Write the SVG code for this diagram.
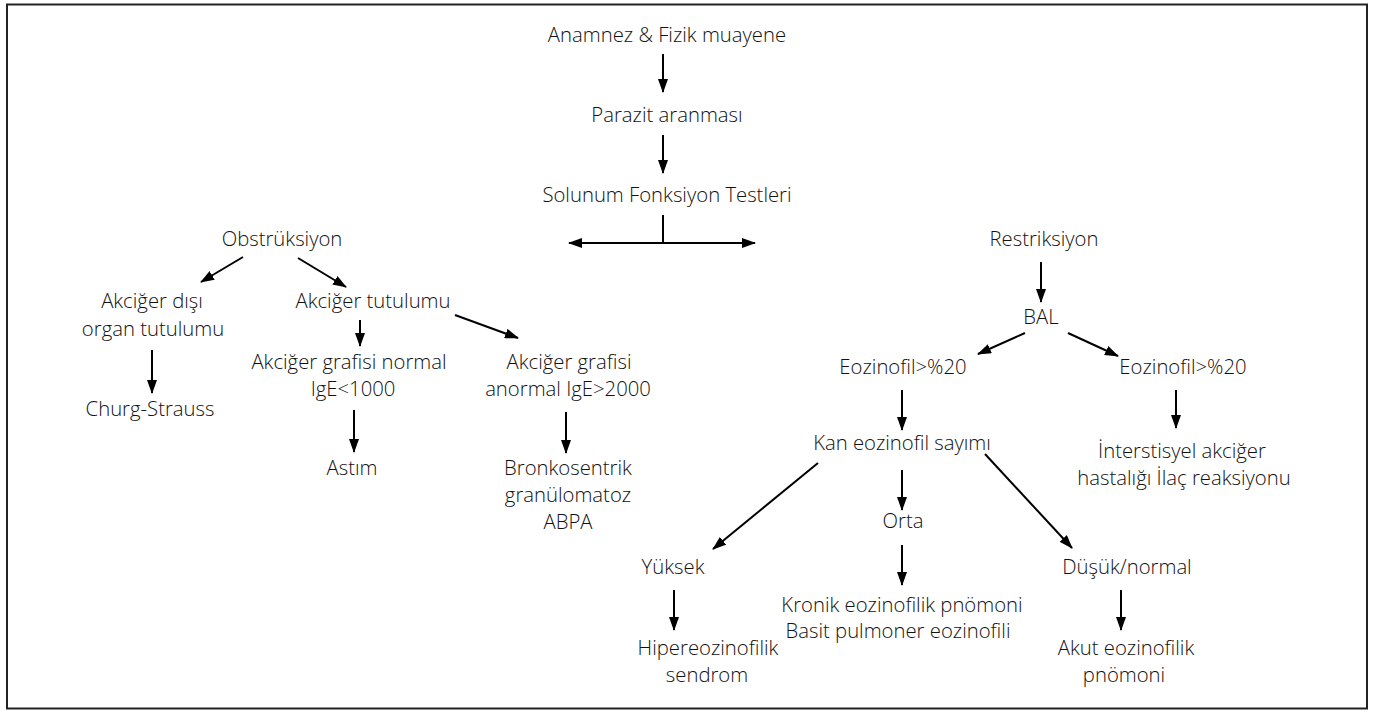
<svg xmlns="http://www.w3.org/2000/svg" width="1373" height="711" viewBox="0 0 1373 711">
<defs>
<marker id="ah" viewBox="0 0 14 10" refX="13" refY="5" markerWidth="14" markerHeight="10" markerUnits="userSpaceOnUse" orient="auto-start-reverse">
<path d="M0,0 L14,5 L0,10 z" fill="#000"/>
</marker>
<style>
text{font-family:"Open Sans","Noto Sans",sans-serif;font-weight:300;font-size:20.3px;fill:#111;text-anchor:middle}
.c{stroke:#000;stroke-width:2;fill:none;marker-end:url(#ah)}
.p{stroke:#000;stroke-width:2;fill:none}
</style>
</defs>
<rect x="7" y="4.5" width="1360" height="704" fill="#fff" stroke="#222" stroke-width="2"/>
<g id="n1"><text x="667" y="42">Anamnez &amp; Fizik muayene</text></g>
<g id="n2"><text x="667" y="122">Parazit aranması</text></g>
<g id="n3"><text x="667" y="202">Solunum Fonksiyon Testleri</text></g>
<g id="n4"><text x="282" y="246">Obstrüksiyon</text></g>
<g id="n5"><text x="152" y="308">Akciğer dışı</text><text x="153" y="336">organ tutulumu</text></g>
<g id="n6"><text x="150" y="416">Churg-Strauss</text></g>
<g id="n7"><text x="373" y="308">Akciğer tutulumu</text></g>
<g id="n8"><text x="349" y="369">Akciğer grafisi normal</text><text x="353" y="396">IgE&lt;1000</text></g>
<g id="n9"><text x="352" y="475">Astım</text></g>
<g id="n10"><text x="569" y="369">Akciğer grafisi</text><text x="568" y="396">anormal IgE&gt;2000</text></g>
<g id="n11"><text x="568" y="475">Bronkosentrik</text><text x="568" y="502">granülomatoz</text><text x="568" y="529">ABPA</text></g>
<g id="n12"><text x="1044" y="246">Restriksiyon</text></g>
<g id="n13"><text x="1041" y="324">BAL</text></g>
<g id="n14"><text x="903" y="374">Eozinofil&gt;%20</text></g>
<g id="n15"><text x="1183" y="374">Eozinofil&gt;%20</text></g>
<g id="n16"><text x="902" y="450">Kan eozinofil sayımı</text></g>
<g id="n17"><text x="1182" y="458">İnterstisyel akciğer</text><text x="1184" y="485">hastalığı İlaç reaksiyonu</text></g>
<g id="n18"><text x="903" y="528">Orta</text></g>
<g id="n19"><text x="902" y="612">Kronik eozinofilik pnömoni</text><text x="898" y="638">Basit pulmoner eozinofili</text></g>
<g id="n20"><text x="673" y="574">Yüksek</text></g>
<g id="n21"><text x="708" y="655">Hipereozinofilik</text><text x="707" y="682">sendrom</text></g>
<g id="n22"><text x="1127" y="574">Düşük/normal</text></g>
<g id="n23"><text x="1126" y="655">Akut eozinofilik</text><text x="1124" y="682">pnömoni</text></g>
<g id="connectors">
<line class="c" x1="663" y1="54" x2="663" y2="92"/>
<line class="c" x1="663" y1="135" x2="663" y2="173"/>
<line class="p" x1="663" y1="215" x2="663" y2="243"/>
<line class="c" x1="663" y1="243" x2="569" y2="243"/>
<line class="c" x1="663" y1="243" x2="755" y2="243"/>
<line class="c" x1="243" y1="257" x2="201" y2="282"/>
<line class="c" x1="298" y1="258" x2="346" y2="287"/>
<line class="c" x1="152" y1="350" x2="152" y2="393"/>
<line class="c" x1="360" y1="320" x2="360" y2="346"/>
<line class="c" x1="455" y1="315" x2="518" y2="338"/>
<line class="c" x1="354" y1="410" x2="354" y2="452"/>
<line class="c" x1="566" y1="412" x2="566" y2="453"/>
<line class="c" x1="1041" y1="262" x2="1041" y2="302"/>
<line class="c" x1="1025" y1="333" x2="978" y2="354"/>
<line class="c" x1="1068" y1="333" x2="1118" y2="356"/>
<line class="c" x1="902" y1="390" x2="902" y2="430"/>
<line class="c" x1="1176" y1="390" x2="1176" y2="428"/>
<line class="c" x1="818" y1="463" x2="713" y2="549"/>
<line class="c" x1="902" y1="470" x2="902" y2="510"/>
<line class="c" x1="985" y1="454" x2="1072" y2="548"/>
<line class="c" x1="902" y1="545" x2="902" y2="585"/>
<line class="c" x1="674" y1="590" x2="674" y2="630"/>
<line class="c" x1="1121" y1="590" x2="1121" y2="630"/>
</g>
</svg>
